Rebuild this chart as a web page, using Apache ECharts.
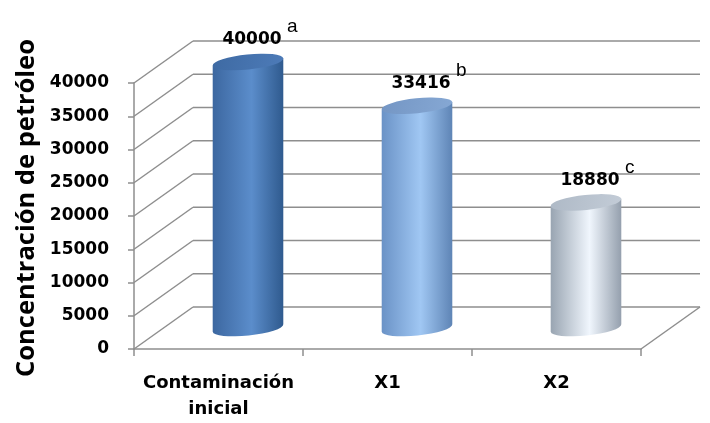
<!DOCTYPE html>
<html><head><meta charset="utf-8">
<script src="https://cdn.jsdelivr.net/npm/echarts@6/dist/echarts.min.js"></script>
<style>html,body{margin:0;padding:0;background:#fff}#c{width:710px;height:423px}</style>
</head><body><div id="c"></div>
<script>
const categories = ['Contaminación\ninicial', 'X1', 'X2'];
const values = [40000, 33416, 18880];
const letters = ['a', 'b', 'c'];
const yTicks = [0, 5000, 10000, 15000, 20000, 25000, 30000, 35000, 40000];
const yTitle = 'Concentración de petróleo';

const DX = 59, DY = -42;
const GRID = '#8e8e8e';
const palettes = [
  {l:'#3c67a0', m:'#5b8dcb', r:'#2f5a8e', top:'#3e6aa3', top2:'#4d7bb8'},
  {l:'#6a92c6', m:'#a0c7f3', r:'#5e84b5', top:'#7496c4', top2:'#86a8d4'},
  {l:'#98a4b1', m:'#f0f6fd', r:'#949fad', top:'#aeb9c6', top2:'#c3ccd7'}
];
const TILT = -6 * Math.PI / 180;

function renderWalls(params, api) {
  const v = api.value(1);
  const cs = params.coordSys;
  const y = api.coord([0, v])[1];
  const x0 = cs.x, x1 = cs.x + cs.width;
  const st = {stroke: GRID, lineWidth: 1.5, fill: null};
  const ch = [
    {type: 'line', shape: {x1: x0, y1: y, x2: x0 + DX, y2: y + DY}, style: st},
    {type: 'line', shape: {x1: x0 + DX, y1: y + DY, x2: x1 + DX, y2: y + DY}, style: st}
  ];
  if (v === 0) ch.push({type: 'line', shape: {x1: x1, y1: y, x2: x1 + DX, y2: y + DY}, style: st});
  return {type: 'group', children: ch};
}

function renderCyl(params, api) {
  const i = api.value(0), v = api.value(1);
  const c = api.coord([i, v]);
  const b = api.coord([i, 0]);
  const rx = api.size([1, 0])[0] * 0.42 / 2;
  const ry = 7.5;
  const cx = c[0] + DX / 2, ty = c[1] + DY / 2, by = b[1] + DY / 2;
  const ax = rx * Math.cos(TILT), ay = rx * Math.sin(TILT);
  const deg = TILT * 180 / Math.PI;
  const p = palettes[i];
  const body = 'M' + (cx - ax) + ' ' + (ty - ay) + ' L' + (cx - ax) + ' ' + (by - ay) +
    ' A' + rx + ' ' + ry + ' ' + deg + ' 0 0 ' + (cx + ax) + ' ' + (by + ay) +
    ' L' + (cx + ax) + ' ' + (ty + ay) + ' Z';
  const top = 'M' + (cx - ax) + ' ' + (ty - ay) +
    ' A' + rx + ' ' + ry + ' ' + deg + ' 0 0 ' + (cx + ax) + ' ' + (ty + ay) +
    ' A' + rx + ' ' + ry + ' ' + deg + ' 0 0 ' + (cx - ax) + ' ' + (ty - ay) + ' Z';
  const bodyGrad = new echarts.graphic.LinearGradient(0, 0, 1, 0, [
    {offset: 0, color: p.l}, {offset: 0.55, color: p.m}, {offset: 1, color: p.r}
  ]);
  const topGrad = new echarts.graphic.LinearGradient(0, 0, 1, 1, [
    {offset: 0, color: p.top}, {offset: 1, color: p.top2}
  ]);
  const lx = cx + 4, ly = ty - 22;
  return {type: 'group', children: [
    {type: 'path', shape: {pathData: body}, style: {fill: bodyGrad}},
    {type: 'path', shape: {pathData: top}, style: {fill: topGrad}},
    {type: 'text', x: lx, y: ly, style: {text: String(values[i]), fill: '#000',
      font: 'bold 17px "DejaVu Sans"', align: 'center', verticalAlign: 'middle'}},
    {type: 'text', x: lx + 35, y: ly - 13, style: {text: letters[i], fill: '#000',
      font: '19px "Liberation Sans"', align: 'left', verticalAlign: 'middle'}}
  ]};
}

const chart = echarts.init(document.getElementById('c'));
chart.setOption({
  animation: false,
  backgroundColor: '#fff',
  grid: {left: 134, right: 69, top: 83, bottom: 74},
  xAxis: {
    type: 'category', data: categories,
    axisLine: {show: true, lineStyle: {color: GRID, width: 1.5}},
    axisTick: {show: true, length: 7, lineStyle: {color: GRID, width: 1.5}},
    axisLabel: {color: '#000', fontFamily: 'DejaVu Sans', fontWeight: 'bold', fontSize: 18,
      lineHeight: 26, margin: 21, interval: 0},
    splitLine: {show: false}
  },
  yAxis: {
    type: 'value', min: 0, max: 40000, interval: 5000,
    axisLine: {show: true, lineStyle: {color: GRID, width: 1.5}},
    axisTick: {show: true, length: 6, lineStyle: {color: GRID, width: 1.5}},
    axisLabel: {color: '#000', fontFamily: 'DejaVu Sans', fontWeight: 'bold', fontSize: 17, margin: 25,
      formatter: function (v) { return String(v); }},
    splitLine: {show: false}
  },
  graphic: [{
    type: 'text', x: 27, y: 208, rotation: Math.PI / 2,
    style: {text: yTitle, fill: '#000', font: 'bold 25.5px "Open Sans"', align: 'center', verticalAlign: 'middle'}
  }],
  series: [
    {type: 'custom', renderItem: renderWalls, data: yTicks.map(v => [0, v]), z: 1, silent: true},
    {type: 'custom', renderItem: renderCyl, data: values.map((v, i) => [i, v]), z: 3, silent: true}
  ]
});
</script></body></html>
